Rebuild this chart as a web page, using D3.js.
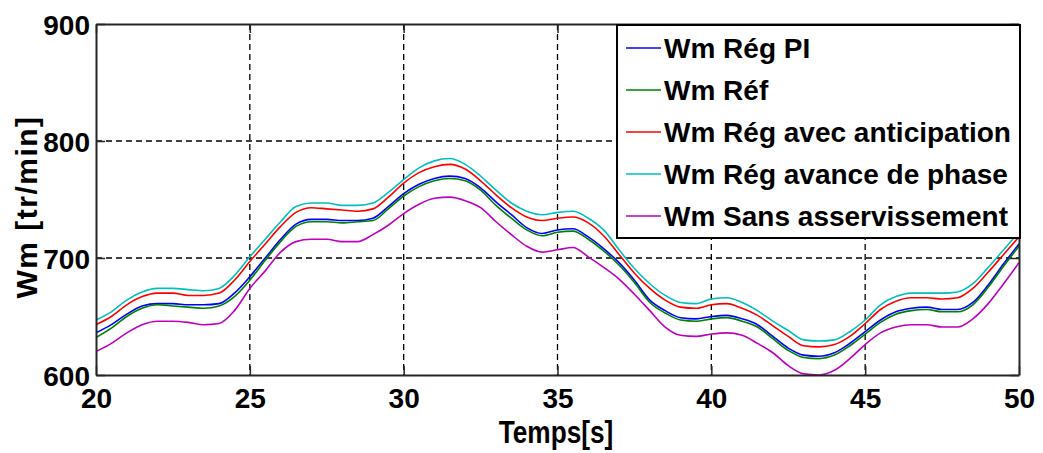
<!DOCTYPE html>
<html>
<head>
<meta charset="utf-8">
<script src="https://cdn.jsdelivr.net/npm/d3@7"></script>
<style>
  body { margin: 0; background: #fff; }
  svg { display: block; font-family: "Liberation Sans", Arial, sans-serif; }
  .grid line { stroke: #000; stroke-width: 1.3; stroke-dasharray: 6,4; }
  .tick-lbl { font-size: 28px; font-weight: bold; fill: #000; }
  .legend text { font-size: 28px; font-weight: bold; fill: #000; }
</style>
</head>
<body>
<svg id="chart" width="1043" height="453"></svg>
<script>
// time samples (s)
const temps = [20, 20.5, 21, 21.5, 22, 22.5, 23, 23.5, 24, 24.5, 25, 25.5, 26, 26.5, 27, 27.5, 28, 28.5, 29, 29.5,
  30, 30.5, 31, 31.5, 32, 32.5, 33, 33.5, 34, 34.5, 35, 35.5, 36, 36.5, 37, 37.5, 38, 38.5, 39, 39.5,
  40, 40.5, 41, 41.5, 42, 42.5, 43, 43.5, 44, 44.5, 45, 45.5, 46, 46.5, 47, 47.5, 48, 48.5, 49, 49.5, 50];

const wmRegPI = [636, 643, 652, 659, 661, 661, 660, 660, 661, 670, 684, 700, 716, 729, 733, 733, 732, 732, 734, 744,
  755, 763, 768, 770, 768, 760, 748, 737, 726, 721, 724, 725, 718, 708, 696, 681, 664, 655, 649, 648,
  650, 651, 648, 643, 633, 623, 617, 616, 619, 627, 637, 647, 654, 657, 658, 656, 656, 662, 677, 695, 712];

const wmRef = [632, 640, 650, 657, 660, 659, 658, 657, 659, 667, 681, 698, 714, 727, 731, 731, 730, 731, 732, 742,
  753, 761, 766, 768, 766, 758, 745, 734, 724, 719, 722, 723, 716, 706, 694, 679, 662, 653, 647, 646,
  648, 649, 646, 641, 631, 621, 615, 614, 617, 625, 635, 645, 652, 655, 656, 654, 654, 660, 675, 693, 710];

const wmAnticip = [643, 650, 660, 667, 670, 670, 668, 668, 670, 681, 697, 712, 727, 739, 743, 742, 741, 740, 742, 752,
  764, 773, 778, 780, 776, 766, 754, 743, 735, 732, 734, 735, 730, 719, 703, 687, 674, 664, 658, 657,
  660, 661, 657, 651, 642, 633, 625, 624, 626, 633, 644, 656, 663, 666, 666, 665, 666, 674, 688, 703, 718];

const wmAvance = [647, 654, 664, 671, 674, 674, 673, 672, 674, 685, 701, 716, 731, 744, 747, 747, 745, 745, 747, 756,
  767, 777, 783, 785, 780, 770, 758, 747, 740, 737, 739, 740, 734, 724, 707, 691, 678, 668, 662, 661,
  665, 666, 662, 655, 646, 638, 630, 629, 630, 637, 647, 660, 667, 670, 670, 670, 671, 678, 692, 707, 722];

const wmSans = [620, 627, 636, 643, 646, 646, 645, 643, 644, 655, 674, 689, 705, 714, 716, 716, 714, 714, 720, 728,
  738, 746, 751, 752, 749, 743, 731, 720, 710, 705, 707, 709, 701, 692, 682, 669, 655, 641, 634, 633,
  635, 636, 634, 627, 619, 608, 601, 600, 604, 614, 626, 636, 641, 643, 643, 641, 641, 648, 661, 678, 696];

const seriesNames = ["Wm Rég PI", "Wm Réf", "Wm Rég avec anticipation", "Wm Rég avance de phase", "Wm Sans asservissement"];
const seriesValues = [wmRegPI, wmRef, wmAnticip, wmAvance, wmSans];
const seriesColors = ["#0000ff", "#008000", "#ff0000", "#00bfbf", "#bf00bf"];

const xTicks = [20, 25, 30, 35, 40, 45, 50];
const yTicks = [600, 700, 800, 900];

const margin = {top: 24, right: 24, bottom: 78, left: 96};
const width = 1043 - margin.left - margin.right;
const height = 453 - margin.top - margin.bottom;

const x = d3.scaleLinear().domain([20, 50]).range([0, width]);
const y = d3.scaleLinear().domain([600, 900]).range([height, 0]);

const svg = d3.select("#chart");
svg.append("defs").append("clipPath").attr("id", "clip")
  .append("rect").attr("width", width).attr("height", height);

const g = svg.append("g").attr("transform", "translate(" + margin.left + "," + margin.top + ")");

// dashed grid
g.append("g").attr("class", "grid")
  .selectAll("line").data(xTicks.slice(1, -1)).enter().append("line")
    .attr("x1", d => x(d)).attr("x2", d => x(d)).attr("y1", 0).attr("y2", height);
g.append("g").attr("class", "grid")
  .selectAll("line").data(yTicks.slice(1, -1)).enter().append("line")
    .attr("x1", 0).attr("x2", width).attr("y1", d => y(d)).attr("y2", d => y(d));

// curves
const line = d3.line()
  .x((d, i) => x(temps[i]))
  .y(d => y(d))
  .curve(d3.curveMonotoneX);

g.append("g").attr("clip-path", "url(#clip)")
  .selectAll("path").data(seriesValues).enter().append("path")
    .attr("d", d => line(d))
    .attr("fill", "none")
    .attr("stroke", (d, i) => seriesColors[i])
    .attr("stroke-width", 1.6);

// axes (matlab style: ticks inside, box all round)
const axStyle = sel => {
  sel.select(".domain").attr("stroke", "#262626").attr("stroke-width", 2);
  sel.selectAll(".tick line").attr("stroke", "#262626").attr("stroke-width", 1.5);
  sel.selectAll(".tick text").attr("class", "tick-lbl").attr("fill", "#000");
};

g.append("g")
  .attr("transform", "translate(0," + height + ")")
  .call(d3.axisBottom(x).tickValues(xTicks).tickSizeInner(-9).tickSizeOuter(0).tickPadding(13))
  .call(axStyle)
  .call(s => s.selectAll(".tick text").attr("font-size", null).attr("font-family", null));

g.append("g")
  .call(d3.axisLeft(y).tickValues(yTicks).tickSizeInner(-9).tickSizeOuter(0).tickPadding(6))
  .call(axStyle)
  .call(s => s.selectAll(".tick text").attr("font-size", null).attr("font-family", null).attr("dy", "0.38em"));

g.append("g")
  .call(d3.axisTop(x).tickValues(xTicks).tickSizeInner(-9).tickSizeOuter(0).tickFormat(""))
  .call(axStyle);

g.append("g")
  .attr("transform", "translate(" + width + ",0)")
  .call(d3.axisRight(y).tickValues(yTicks).tickSizeInner(-9).tickSizeOuter(0).tickFormat(""))
  .call(axStyle);

// axis titles
svg.append("text")
  .attr("transform", "translate(556,443) scale(0.82,1)")
  .attr("text-anchor", "middle")
  .attr("font-size", 32).attr("font-weight", "bold")
  .text("Temps[s]");

svg.append("text")
  .attr("transform", "translate(37,207) rotate(-90)")
  .attr("text-anchor", "middle")
  .attr("font-size", 30).attr("font-weight", "bold")
  .attr("letter-spacing", 1.5)
  .text("Wm [tr/min]");

// legend
const lg = svg.append("g").attr("class", "legend").attr("transform", "translate(617,25)");
lg.append("rect")
  .attr("width", 403).attr("height", 213)
  .attr("fill", "#fff").attr("stroke", "#000").attr("stroke-width", 2);

const items = lg.selectAll("g.item").data(seriesNames).enter().append("g")
  .attr("class", "item")
  .attr("transform", (d, i) => "translate(0," + (23 + i * 42) + ")");
items.append("line")
  .attr("x1", 9).attr("x2", 44).attr("y1", 0).attr("y2", 0)
  .attr("stroke", (d, i) => seriesColors[i]).attr("stroke-width", 1.6);
items.append("text")
  .attr("x", 47).attr("y", 10)
  .text(d => d);
</script>
</body>
</html>
